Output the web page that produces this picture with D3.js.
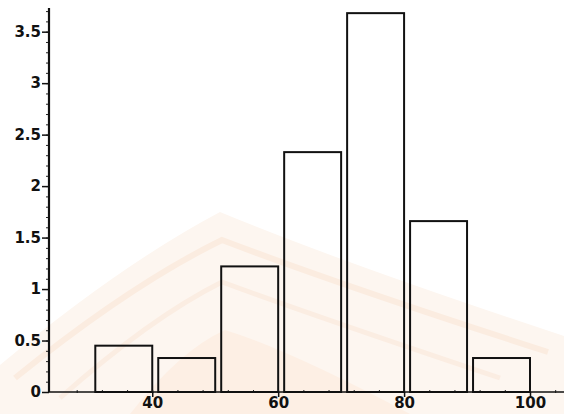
<!DOCTYPE html>
<html>
<head>
<meta charset="utf-8">
<script src="https://cdn.jsdelivr.net/npm/d3@7"></script>
<style>
  body { margin: 0; background: #fff; }
  svg { display: block; }
  .lbl { font-family: "DejaVu Sans", sans-serif; font-weight: bold; font-size: 15px; fill: #111; }
</style>
</head>
<body>
<svg id="chart"></svg>
<script>
// histogram bins (class limits) and bar heights
var binLow  = [30, 40, 50, 60, 70, 80, 90];
var binHigh = [40, 50, 60, 70, 80, 90, 100];
var heights = [0.45, 0.33, 1.22, 2.33, 3.68, 1.66, 0.33];

var xTicks = [40, 60, 80, 100];
var yTicks = [0, 0.5, 1, 1.5, 2, 2.5, 3, 3.5];
var yTickLabels = ["0", "0.5", "1", "1.5", "2", "2.5", "3", "3.5"];

var svgWidth = 564, svgHeight = 414;

var svg = d3.select("#chart")
    .attr("width", svgWidth)
    .attr("height", svgHeight);

// faint watermark from the scanned page
var wm = svg.append("g").attr("class", "watermark");
wm.append("path")
    .attr("d", "M0,365 Q120,265 220,212 Q340,262 564,336 L564,414 L0,414 Z")
    .attr("fill", "#fdf6f0");
wm.append("path")
    .attr("d", "M15,378 Q130,285 222,240 Q340,285 548,352")
    .attr("fill", "none").attr("stroke", "#fbece0").attr("stroke-width", 6);
wm.append("path")
    .attr("d", "M60,398 Q150,318 222,282 Q320,318 500,378")
    .attr("fill", "none").attr("stroke", "#fbede2").attr("stroke-width", 5);
wm.append("path")
    .attr("d", "M130,414 Q180,350 225,330 Q290,350 410,414 Z")
    .attr("fill", "#fdefe4");

var xScale = d3.scaleLinear()
    .domain([23.6, 105.4])
    .range([49, 564]);

var yScale = d3.scaleLinear()
    .domain([0, 3.73])
    .range([392, 8]);

var g = svg.append("g");

// bars (Maple style: small gap on the left of each bin)
var gap = 6;
g.selectAll("rect.bar")
    .data(heights)
    .join("rect")
    .attr("class", "bar")
    .attr("x", (d, i) => xScale(binLow[i]) + gap)
    .attr("y", d => yScale(d))
    .attr("width", (d, i) => xScale(binHigh[i]) - xScale(binLow[i]) - gap)
    .attr("height", d => yScale(0) - yScale(d))
    .attr("fill", "none")
    .attr("stroke", "#111")
    .attr("stroke-width", 2);

// x axis
var xAxis = g.append("g").attr("transform", "translate(0," + yScale(0) + ")");
xAxis.call(d3.axisBottom(xScale).tickValues(d3.range(28, 105, 4)).tickSize(-3).tickFormat(""))
    .call(a => a.select(".domain").remove());
xAxis.selectAll(".tick line").attr("stroke", "#222").attr("transform", "translate(0,1)");
xAxis.append("g")
    .call(d3.axisBottom(xScale).tickValues(xTicks).tickSize(5).tickPadding(0))
    .call(a => a.select(".domain").remove())
    .call(a => a.selectAll(".tick line").attr("stroke", "#111").attr("stroke-width", 1.5))
    .call(a => a.selectAll(".tick text").attr("class", "lbl").attr("fill", null).attr("font-size", null).attr("font-family", null));
xAxis.append("line")
    .attr("x1", xScale.range()[0]).attr("x2", xScale.range()[1])
    .attr("stroke", "#111").attr("stroke-width", 1.6);

// y axis
var yAxis = g.append("g").attr("transform", "translate(" + xScale.range()[0] + ",0)");
yAxis.call(d3.axisLeft(yScale).tickValues(d3.range(0.1, 3.71, 0.1)).tickSize(3).tickFormat(""))
    .call(a => a.select(".domain").remove());
yAxis.selectAll(".tick line").attr("stroke", "#222");
yAxis.append("g")
    .call(d3.axisLeft(yScale).tickValues(yTicks).tickSize(7).tickPadding(1)
        .tickFormat((d, i) => yTickLabels[i]))
    .call(a => a.select(".domain").remove())
    .call(a => a.selectAll(".tick line").attr("stroke", "#111").attr("stroke-width", 1.5))
    .call(a => a.selectAll(".tick text").attr("class", "lbl").attr("fill", null).attr("font-size", null).attr("font-family", null));
yAxis.append("line")
    .attr("y1", yScale.range()[0]).attr("y2", yScale.range()[1])
    .attr("stroke", "#111").attr("stroke-width", 2.2);
</script>
</body>
</html>
